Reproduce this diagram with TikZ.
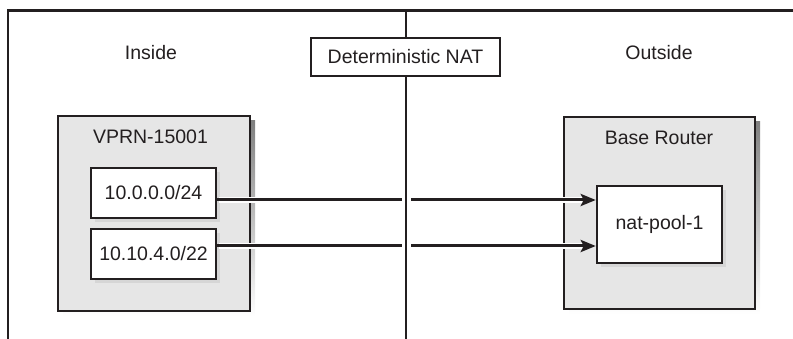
\documentclass[tikz,border=0pt]{standalone}
\usepackage{fontspec}
\setmainfont{Liberation Sans}
\usetikzlibrary{arrows.meta}
\definecolor{ink}{HTML}{231F20}
\definecolor{panel}{HTML}{E6E6E6}
\definecolor{shade}{HTML}{CDCDCD}
\definecolor{shadein}{HTML}{D6D6D6}
\begin{document}
\begin{tikzpicture}[x=1pt,y=-1pt,
  lbl/.style={font=\fontsize{19.5}{22}\selectfont, text=ink, inner sep=0pt},
  panelbox/.style={draw=ink, line width=2.5pt, fill=panel, inner sep=0pt},
  whitebox/.style={draw=ink, line width=2.5pt, fill=white, inner sep=0pt,
     font=\fontsize{19.5}{22}\selectfont, text=ink},
  frame/.style={draw=ink, line width=2.8pt},
  divider/.style={draw=ink, line width=1.2pt},
  flow/.style={draw=ink, line width=3pt},
  halo/.style={draw=white, line width=6pt},
  tip/.style={-{Stealth[length=15pt,width=12pt,inset=3pt]}}
]
\useasboundingbox (0,0) rectangle (793,339);
% outer frame
\coordinate (ftl) at (8,10.5);
\coordinate (fbl) at (8,339);
\coordinate (ftr) at (793,10.5);
\draw[frame] (fbl) -- (ftl) -- (ftr);
% divider
\coordinate (dtop) at (406,10.5);
\coordinate (dbot) at (406,339);
\draw[divider] (dtop) -- (dbot);
% labels
\node[lbl] (inside) at (151,53) {Inside};
\node[lbl] (outside) at (659,53) {Outside};
\node[whitebox, minimum width=189pt, minimum height=38pt] (nat) at (405.5,57) {Deterministic NAT};
% shadows
\fill[shade] (63,121) rectangle (255,316);
\fill[shade] (569,122) rectangle (760,314);
% VPRN panel
\node[panelbox, minimum width=192pt, minimum height=195pt] (vprn) at (154,213.5) {};
\node[lbl] (vprnl) at (150.5,137) {VPRN-15001};
\fill[shadein] (95,172) rectangle (220,222);
\fill[shadein] (95,233) rectangle (220,283);
\node[whitebox, minimum width=125pt, minimum height=50pt] (sub1) at (153.5,193) {10.0.0.0/24};
\node[whitebox, minimum width=125pt, minimum height=50pt] (sub2) at (153.5,254) {10.10.4.0/22};
% Base router panel
\node[panelbox, minimum width=191pt, minimum height=192pt] (base) at (659.5,213) {};
\node[lbl] (basel) at (659,138) {Base Router};
\fill[shadein] (601,190) rectangle (726,267);
\node[whitebox, minimum width=125pt, minimum height=77pt] (pool) at (659.5,224.5) {nat-pool-1};
% arrows
\coordinate (s1) at (sub1.east |- 0,200);
\coordinate (g1a) at (402,200);
\coordinate (g1b) at (411,200);
\coordinate (e1) at (pool.west |- 0,200);
\coordinate (s2) at (sub2.east |- 0,246);
\coordinate (g2a) at (402,246);
\coordinate (g2b) at (411,246);
\coordinate (e2) at (pool.west |- 0,246);
\draw[halo] ([xshift=1.5pt]s1) -- (g1a);
\draw[halo] (g1b) -- ([xshift=-14pt]e1);
\draw[halo] ([xshift=1.5pt]s2) -- (g2a);
\draw[halo] (g2b) -- ([xshift=-14pt]e2);
\draw[flow] (s1) -- (g1a);
\draw[flow, tip] (g1b) -- (e1);
\draw[flow] (s2) -- (g2a);
\draw[flow, tip] (g2b) -- (e2);
\end{tikzpicture}
\end{document}
